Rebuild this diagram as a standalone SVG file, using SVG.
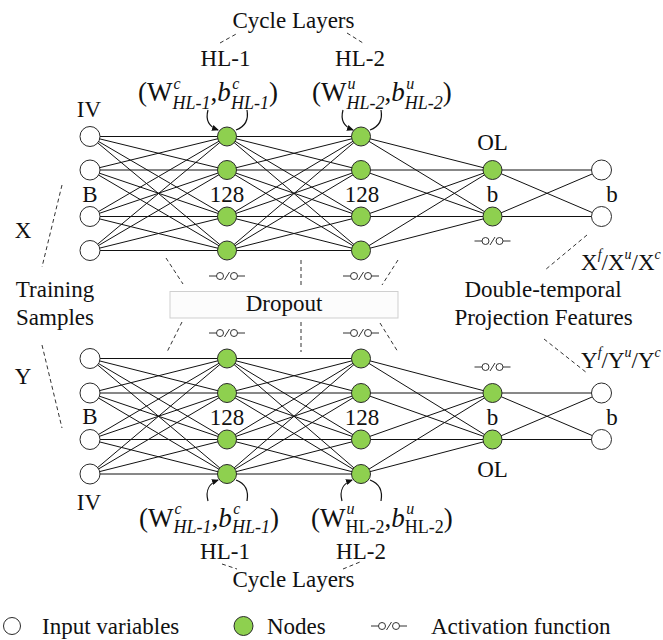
<svg xmlns="http://www.w3.org/2000/svg" width="663" height="640" viewBox="0 0 663 640">
<style>
text{font-family:"Liberation Serif","Times New Roman",serif;font-size:23px;fill:#111}
.m{text-anchor:middle}
.f{font-size:27px}
.s{font-size:16px;font-style:italic}
.su{font-size:18px;font-style:italic}
.up{font-size:18px;font-style:normal}
.i{font-style:italic}
.sm{font-size:14px;font-style:italic}
.ln{stroke:#111;stroke-width:1;fill:none}
.dash{stroke:#333;stroke-width:1;stroke-dasharray:4 3;fill:none}
.arc{stroke:#111;stroke-width:1.2;fill:none}
.node{fill:#8ed04f;stroke:#2a2a2a;stroke-width:1}
.iv{fill:#fff;stroke:#2a2a2a;stroke-width:1}
.act{stroke:#333;stroke-width:1;fill:#fff}
</style>
<defs>
<marker id="ah" markerWidth="7" markerHeight="6" refX="6" refY="3" orient="auto" markerUnits="userSpaceOnUse">
<path d="M0 0L7 3L0 6z" fill="#111"/>
</marker>
<g id="actf">
<path d="M-18 0H-10.5M10.5 0H18M-2.5 4L2.5 -4" class="act"/>
<circle cx="-7" cy="0" r="3.5" class="act"/>
<circle cx="7" cy="0" r="3.5" class="act"/>
</g>
</defs>

<g id="connectors">
<path class="ln" d="M90 136.5L227 136.5M90 136.5L227 170M90 136.5L227 216.5M90 136.5L227 250.5M90 170L227 136.5M90 170L227 170M90 170L227 216.5M90 170L227 250.5M90 216.5L227 136.5M90 216.5L227 170M90 216.5L227 216.5M90 216.5L227 250.5M90 250.5L227 136.5M90 250.5L227 170M90 250.5L227 216.5M90 250.5L227 250.5"/>
<path class="ln" d="M227 136.5L361 136.5M227 136.5L361 170M227 136.5L361 216.5M227 136.5L361 250.5M227 170L361 136.5M227 170L361 170M227 170L361 216.5M227 170L361 250.5M227 216.5L361 136.5M227 216.5L361 170M227 216.5L361 216.5M227 216.5L361 250.5M227 250.5L361 136.5M227 250.5L361 170M227 250.5L361 216.5M227 250.5L361 250.5"/>
<path class="ln" d="M361 136.5L492.5 170M361 136.5L492.5 216.5M361 170L492.5 170M361 170L492.5 216.5M361 216.5L492.5 170M361 216.5L492.5 216.5M361 250.5L492.5 170M361 250.5L492.5 216.5"/>
<path class="ln" d="M492.5 170L601.5 170M492.5 170L601.5 216.5M492.5 216.5L601.5 170M492.5 216.5L601.5 216.5"/>
<path class="ln" d="M90 358.5L227 358.5M90 358.5L227 393M90 358.5L227 439.5M90 358.5L227 474M90 393L227 358.5M90 393L227 393M90 393L227 439.5M90 393L227 474M90 439.5L227 358.5M90 439.5L227 393M90 439.5L227 439.5M90 439.5L227 474M90 474L227 358.5M90 474L227 393M90 474L227 439.5M90 474L227 474"/>
<path class="ln" d="M227 358.5L361 358.5M227 358.5L361 393M227 358.5L361 439.5M227 358.5L361 474M227 393L361 358.5M227 393L361 393M227 393L361 439.5M227 393L361 474M227 439.5L361 358.5M227 439.5L361 393M227 439.5L361 439.5M227 439.5L361 474M227 474L361 358.5M227 474L361 393M227 474L361 439.5M227 474L361 474"/>
<path class="ln" d="M361 358.5L492.5 393M361 358.5L492.5 439.5M361 393L492.5 393M361 393L492.5 439.5M361 439.5L492.5 393M361 439.5L492.5 439.5M361 474L492.5 393M361 474L492.5 439.5"/>
<path class="ln" d="M492.5 393L601.5 393M492.5 393L601.5 439.5M492.5 439.5L601.5 393M492.5 439.5L601.5 439.5"/>
<path class="arc" d="M208 110C205 121 210 127 218 130" marker-end="url(#ah)"/>
<path class="arc" d="M247 110C249 121 244 127 236 130"/>
<path class="arc" d="M343 110C340 121 345 127 353 130" marker-end="url(#ah)"/>
<path class="arc" d="M381 110C383 121 378 127 370 130"/>
<path class="arc" d="M208 501C205 490 210 483 218 480" marker-end="url(#ah)"/>
<path class="arc" d="M247 501C249 490 244 483 236 480"/>
<path class="arc" d="M342 501C339 490 344 483 352 480" marker-end="url(#ah)"/>
<path class="arc" d="M381 501C383 490 378 483 370 480"/>
<path class="dash" d="M220 43L238 33M347 33L363 43"/>
<path class="dash" d="M222 564L237 569M343 569L360 562"/>
<path class="dash" d="M62 185L42 267M42 345L62 428"/>
<path class="dash" d="M587 235L545 270M544 339L587 373"/>
<path class="dash" d="M301 260V287M301 322V352"/>
<path class="dash" d="M166 258L183 284M398 260L382 285M182 322L167 352M380 323L398 352"/>
</g>

<g id="dropout">
<rect x="170" y="291.5" width="228" height="26.5" fill="#fcfcfc" stroke="#cfcfcf" stroke-width="1"/>
<text x="284" y="311" class="m">Dropout</text>
</g>

<g id="top-input">
<circle cx="90" cy="136.5" r="10" class="iv"/>
<circle cx="90" cy="170" r="10" class="iv"/>
<circle cx="90" cy="216.5" r="10" class="iv"/>
<circle cx="90" cy="250.5" r="10" class="iv"/>
<text x="89" y="117" class="m">IV</text>
<text x="90" y="202" class="m">B</text>
</g>
<g id="top-hl1">
<circle cx="227" cy="136.5" r="9.5" class="node"/>
<circle cx="227" cy="170" r="9.5" class="node"/>
<circle cx="227" cy="216.5" r="9.5" class="node"/>
<circle cx="227" cy="250.5" r="9.5" class="node"/>
<text x="227" y="202" class="m">128</text>
<use href="#actf" x="227" y="276"/>
</g>
<g id="top-hl2">
<circle cx="361" cy="136.5" r="9.5" class="node"/>
<circle cx="361" cy="170" r="9.5" class="node"/>
<circle cx="361" cy="216.5" r="9.5" class="node"/>
<circle cx="361" cy="250.5" r="9.5" class="node"/>
<text x="362" y="202" class="m">128</text>
<use href="#actf" x="361" y="276"/>
</g>
<g id="top-ol">
<circle cx="492.5" cy="170" r="9.5" class="node"/>
<circle cx="492.5" cy="216.5" r="9.5" class="node"/>
<text x="492.5" y="150" class="m">OL</text>
<text x="492.5" y="202" class="m">b</text>
<use href="#actf" x="492.5" y="241"/>
</g>
<g id="top-out">
<circle cx="601.5" cy="170" r="10" class="iv"/>
<circle cx="601.5" cy="216.5" r="10" class="iv"/>
<text x="612" y="202" class="m">b</text>
</g>

<g id="bottom-input">
<circle cx="90" cy="358.5" r="10" class="iv"/>
<circle cx="90" cy="393" r="10" class="iv"/>
<circle cx="90" cy="439.5" r="10" class="iv"/>
<circle cx="90" cy="474" r="10" class="iv"/>
<text x="90" y="424" class="m">B</text>
<text x="89" y="510" class="m">IV</text>
</g>
<g id="bottom-hl1">
<circle cx="227" cy="358.5" r="9.5" class="node"/>
<circle cx="227" cy="393" r="9.5" class="node"/>
<circle cx="227" cy="439.5" r="9.5" class="node"/>
<circle cx="227" cy="474" r="9.5" class="node"/>
<text x="227" y="425" class="m">128</text>
<use href="#actf" x="227" y="333"/>
</g>
<g id="bottom-hl2">
<circle cx="361" cy="358.5" r="9.5" class="node"/>
<circle cx="361" cy="393" r="9.5" class="node"/>
<circle cx="361" cy="439.5" r="9.5" class="node"/>
<circle cx="361" cy="474" r="9.5" class="node"/>
<text x="362" y="425" class="m">128</text>
<use href="#actf" x="361" y="333"/>
</g>
<g id="bottom-ol">
<circle cx="492.5" cy="393" r="9.5" class="node"/>
<circle cx="492.5" cy="439.5" r="9.5" class="node"/>
<text x="492.5" y="425" class="m">b</text>
<text x="492.5" y="477" class="m">OL</text>
<use href="#actf" x="492.5" y="367"/>
</g>
<g id="bottom-out">
<circle cx="601.5" cy="393" r="10" class="iv"/>
<circle cx="601.5" cy="439.5" r="10" class="iv"/>
<text x="612" y="425" class="m">b</text>
</g>

<g id="top-labels">
<text x="293.5" y="28" class="m">Cycle Layers</text>
<text x="225.5" y="66" class="m">HL-1</text>
<text x="360" y="66" class="m">HL-2</text>
<text x="138" y="101" class="f">(W<tspan class="s" dx="1" dy="-12.5">c</tspan><tspan class="su" dx="-8" dy="20">HL-1</tspan><tspan dy="-7.5">,</tspan><tspan class="i">b</tspan><tspan class="s" dx="1.5" dy="-12.5">c</tspan><tspan class="su" dx="-8.5" dy="20">HL-1</tspan><tspan dy="-7.5">)</tspan></text>
<text x="312" y="101" class="f">(W<tspan class="s" dx="1" dy="-12.5">u</tspan><tspan class="su" dx="-9" dy="20">HL-2</tspan><tspan dy="-7.5">,</tspan><tspan class="i">b</tspan><tspan class="s" dx="1.5" dy="-12.5">u</tspan><tspan class="su" dx="-9.5" dy="20">HL-2</tspan><tspan dy="-7.5">)</tspan></text>
</g>

<g id="bottom-labels">
<text x="139" y="526.5" class="f">(W<tspan class="s" dx="1" dy="-13">c</tspan><tspan class="su" dx="-8" dy="19.5">HL-1</tspan><tspan dy="-6.5">,</tspan><tspan class="i">b</tspan><tspan class="s" dx="1.5" dy="-13">c</tspan><tspan class="su" dx="-8.5" dy="19.5">HL-1</tspan><tspan dy="-6.5">)</tspan></text>
<text x="311" y="526.5" class="f">(W<tspan class="s" dx="1" dy="-13">u</tspan><tspan class="up" dx="-9" dy="19.5">HL-2</tspan><tspan dy="-6.5">,</tspan><tspan class="i">b</tspan><tspan class="s" dx="1.5" dy="-13">u</tspan><tspan class="up" dx="-9.5" dy="19.5">HL-2</tspan><tspan dy="-6.5">)</tspan></text>
<text x="225" y="558.5" class="m">HL-1</text>
<text x="361" y="558.5" class="m">HL-2</text>
<text x="293.5" y="587" class="m">Cycle Layers</text>
</g>

<g id="side-labels">
<text x="23" y="238" class="m">X</text>
<text x="55" y="297" class="m">Training</text>
<text x="55" y="325" class="m">Samples</text>
<text x="23" y="384" class="m">Y</text>
<text x="543" y="297" class="m">Double-temporal</text>
<text x="543.5" y="325" class="m">Projection Features</text>
<text x="581" y="270">X<tspan class="sm" dy="-11">f</tspan><tspan dy="11">/X</tspan><tspan class="sm" dy="-11">u</tspan><tspan dy="11">/X</tspan><tspan class="sm" dy="-11">c</tspan></text>
<text x="581" y="368">Y<tspan class="sm" dy="-11">f</tspan><tspan dy="11">/Y</tspan><tspan class="sm" dy="-11">u</tspan><tspan dy="11">/Y</tspan><tspan class="sm" dy="-11">c</tspan></text>
</g>

<g id="legend">
<circle cx="12" cy="626" r="8.5" class="iv"/>
<text x="42" y="634">Input variables</text>
<circle cx="243.5" cy="626" r="9.5" class="node"/>
<text x="267" y="634">Nodes</text>
<use href="#actf" x="389" y="626"/>
<text x="431" y="634">Activation function</text>
</g>
</svg>
